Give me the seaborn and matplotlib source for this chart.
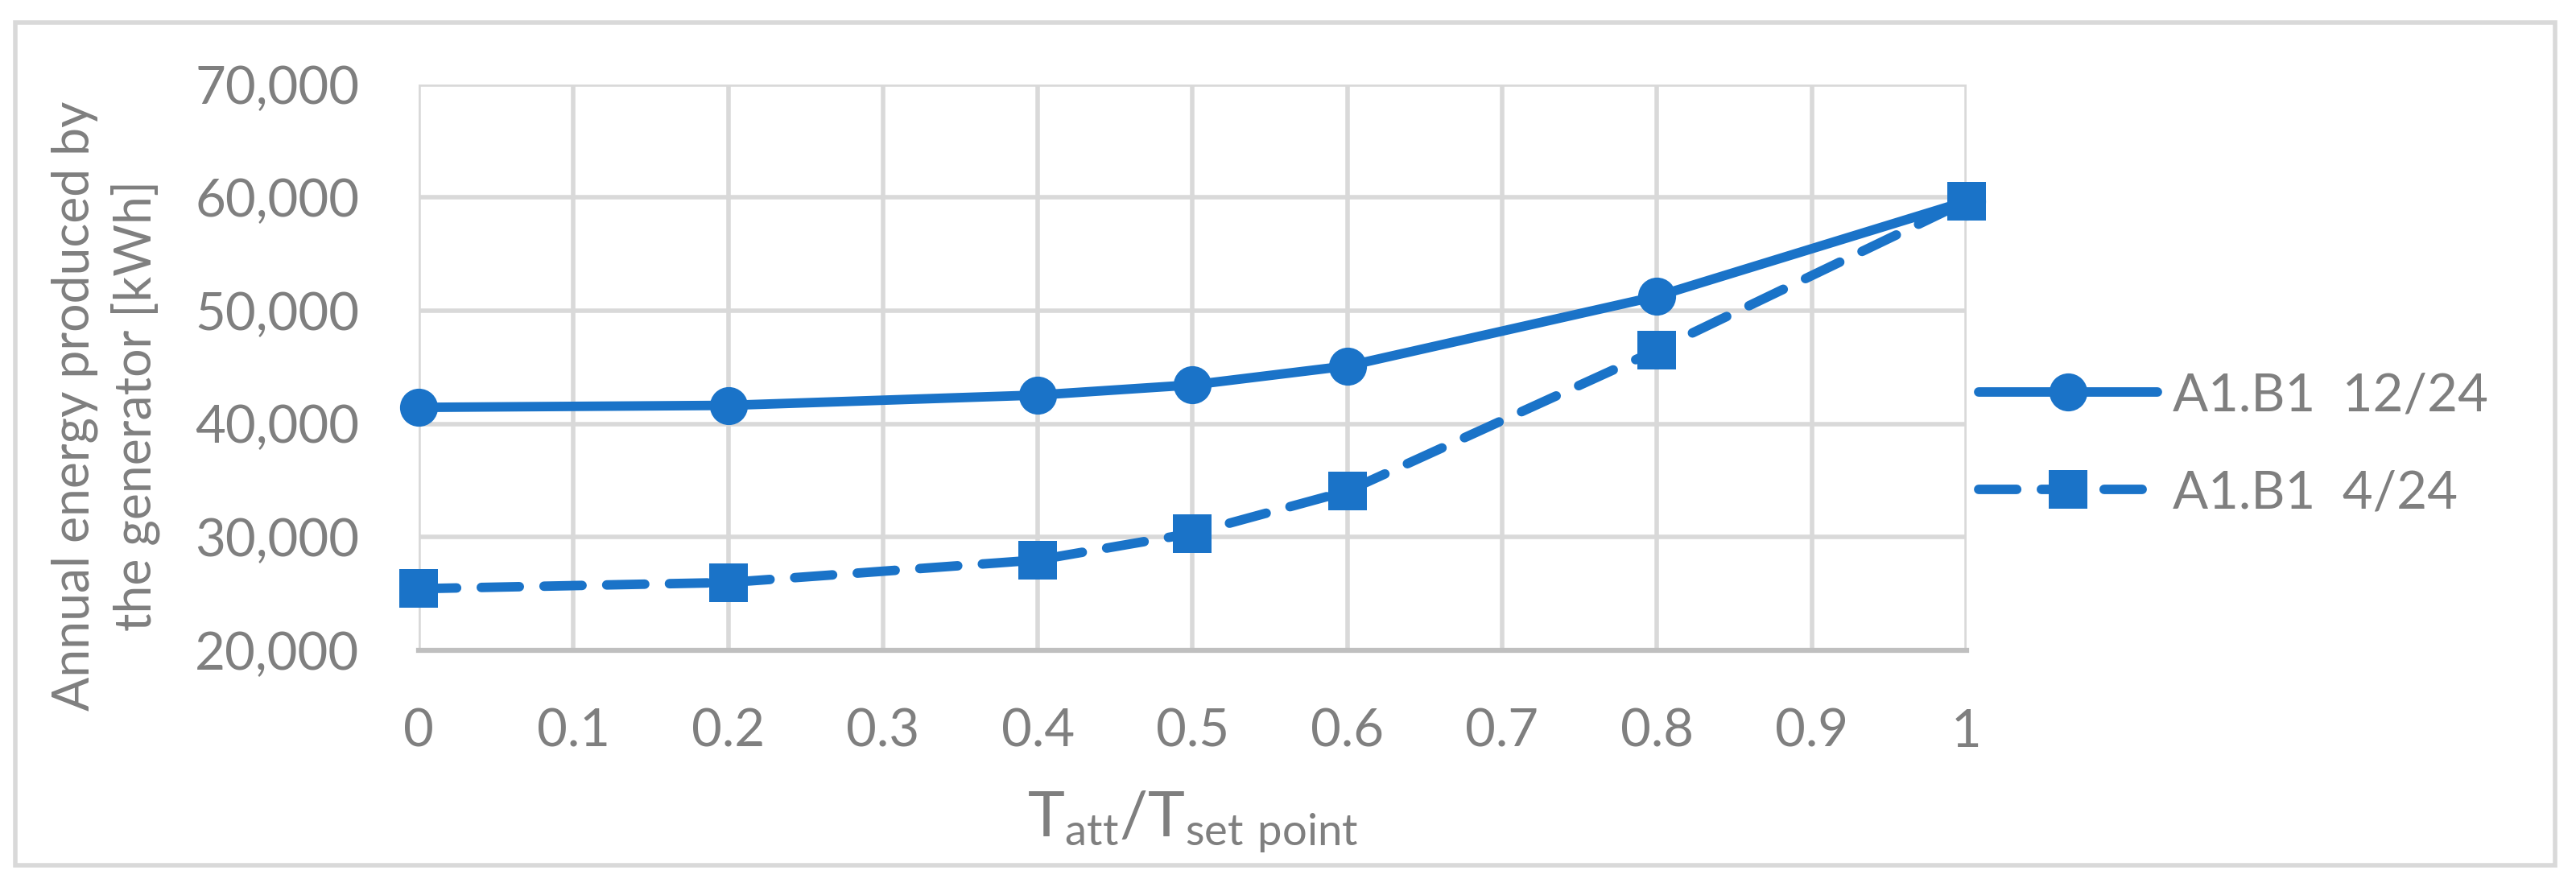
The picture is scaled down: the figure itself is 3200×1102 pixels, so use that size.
import matplotlib
matplotlib.use("Agg")
import matplotlib.pyplot as plt
import matplotlib.ticker as mticker
from matplotlib.patches import Rectangle
import numpy as np
import pandas as pd
import seaborn as sns

# values
ratio = [0, 0.2, 0.4, 0.5, 0.6, 0.8, 1]
energy_12_24 = [41450, 41630, 42540, 43440, 45110, 51270, 59670]
energy_4_24 = [25430, 25980, 27970, 30330, 34060, 46520, 59670]
series_names = ["A1.B1  12/24", "A1.B1  4/24"]
x_ticks = [0, 0.1, 0.2, 0.3, 0.4, 0.5, 0.6, 0.7, 0.8, 0.9, 1]
y_ticks = [20000, 30000, 40000, 50000, 60000, 70000]

blue = "#1A73C8"
grey_text = "#7F7F7F"
grid_col = "#D9D9D9"

df = pd.concat([
    pd.DataFrame({"ratio": ratio, "energy": energy_12_24, "series": series_names[0]}),
    pd.DataFrame({"ratio": ratio, "energy": energy_4_24, "series": series_names[1]}),
])

sns.set_style("white")
plt.rcParams["font.family"] = ["Lato", "DejaVu Sans"]
plt.rcParams["mathtext.fontset"] = "custom"
plt.rcParams["mathtext.rm"] = "Lato"

fig = plt.figure(figsize=(32, 11.02), dpi=100)
ax = fig.add_axes([0.1625, 0.267, 0.6009, 0.638])

sns.lineplot(data=df, x="ratio", y="energy", style="series", style_order=series_names,
             markers={series_names[0]: "o", series_names[1]: "s"},
             dashes={series_names[0]: "", series_names[1]: (4, 2.6)},
             color=blue, linewidth=8.5, markersize=34, markeredgewidth=0,
             dash_capstyle="round", solid_capstyle="round",
             clip_on=False, zorder=5, legend=False, ax=ax)

ax.set_xlim(0, 1)
ax.set_ylim(20000, 70000)
ax.set_xticks(x_ticks)
ax.set_yticks(y_ticks)
ax.xaxis.set_major_formatter(mticker.FuncFormatter(lambda v, p: "%g" % round(v, 1)))
ax.yaxis.set_major_formatter(mticker.FuncFormatter(lambda v, p: "{:,.0f}".format(v)))
ax.tick_params(axis="both", length=0, labelsize=47, colors=grey_text)
ax.tick_params(axis="y", pad=53)
ax.tick_params(axis="x", pad=52)

ax.grid(True, color=grid_col, linewidth=4)
ax.set_axisbelow(True)
for s in ["top", "right", "left"]:
    ax.spines[s].set_visible(False)
ax.spines["bottom"].set_color("#BFBFBF")
ax.spines["bottom"].set_linewidth(4.5)

ax.set_ylabel("Annual energy produced by\nthe generator [kWh]", fontsize=45,
              color=grey_text, linespacing=1.3)
ax.yaxis.set_label_coords(-0.167, 0.432)
ax.set_xlabel(r"$\mathregular{T_{att}/T_{set\ point}}$", fontsize=56, color=grey_text)
ax.xaxis.set_label_coords(0.5, -0.245)
ax.xaxis.label.set_va("top")

fig.legend(handles=ax.lines[:2], labels=series_names, loc="center left",
           bbox_to_anchor=(0.768, 0.499), frameon=False, fontsize=47,
           handlelength=3.4, handletextpad=0.3, borderpad=0, borderaxespad=0,
           labelspacing=0.95, labelcolor=grey_text)

# light grey frame around the whole chart
fig.patches.append(Rectangle((0.006, 0.0245), 0.986, 0.950, transform=fig.transFigure,
                             fill=False, edgecolor=grid_col, linewidth=4))

fig.savefig("out.png", dpi=100)
